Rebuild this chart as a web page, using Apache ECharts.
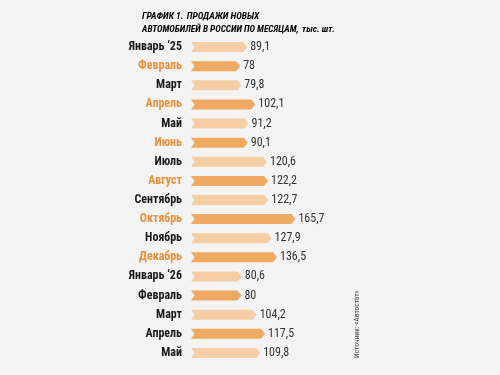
<!DOCTYPE html>
<html>
<head>
<meta charset="utf-8">
<script src="https://cdn.jsdelivr.net/npm/echarts@6/dist/echarts.min.js"></script>
<style>
  html, body { margin: 0; padding: 0; background: #f3f3f3; }
  #chart { width: 500px; height: 375px; }
</style>
</head>
<body>
<div id="chart"></div>
<script>
  // data
  var months = ['Январь ‘25', 'Февраль', 'Март', 'Апрель', 'Май', 'Июнь', 'Июль', 'Август',
    'Сентябрь', 'Октябрь', 'Ноябрь', 'Декабрь', 'Январь ‘26', 'Февраль', 'Март', 'Апрель', 'Май'];
  var sales = [89.1, 78, 79.8, 102.1, 91.2, 90.1, 120.6, 122.2, 122.7, 165.7, 127.9, 136.5,
    80.6, 80, 104.2, 117.5, 109.8];
  // which bars are dark / which labels are orange
  var darkBar = [0, 1, 0, 1, 0, 1, 0, 1, 0, 1, 0, 1, 0, 1, 0, 1, 0];
  var orangeLabel = [0, 1, 0, 1, 0, 1, 0, 1, 0, 1, 0, 1, 0, 0, 0, 0, 0];

  var font = '"Roboto Condensed", "Open Sans", sans-serif';
  var chart = echarts.init(document.getElementById('chart'));

  var titleStyle = function (color, size) {
    return { color: color, fontSize: size, fontWeight: 'bold', fontStyle: 'italic', fontFamily: font };
  };

  chart.setOption({
    backgroundColor: '#f3f3f3',
    animation: false,
    grid: { left: 191, right: 183, top: 37.5, bottom: 12.5 },
    xAxis: {
      type: 'value', min: 0, max: 200,
      show: false
    },
    yAxis: {
      type: 'category',
      data: months,
      inverse: true,
      axisLine: { show: false },
      axisTick: { show: false },
      splitLine: { show: false },
      axisLabel: {
        margin: 9,
        fontSize: 12,
        fontWeight: 'bold',
        fontFamily: font,
        color: function (value, index) {
          return orangeLabel[index] ? '#e8913a' : '#1a1a1a';
        }
      }
    },
    series: [{
      type: 'custom',
      data: sales.map(function (v, i) { return [v, i]; }),
      encode: { x: 0, y: 1 },
      renderItem: function (params, api) {
        var i = api.value(1);
        var end = api.coord([api.value(0), i]);
        var start = api.coord([0, i]);
        var h = 10, d = 4;
        var x0 = start[0], x1 = end[0], y = end[1];
        return {
          type: 'group',
          children: [{
            type: 'polygon',
            shape: {
              points: [
                [x0, y - h / 2], [x1 - d, y - h / 2], [x1, y], [x1 - d, y + h / 2],
                [x0, y + h / 2], [x0 + 3.5, y]
              ]
            },
            style: { fill: darkBar[i] ? '#eeaa62' : '#f6cea6' }
          }, {
            type: 'text',
            x: x1 + 3,
            y: y,
            style: {
              text: String(api.value(0)).replace('.', ','),
              fill: '#333',
              fontSize: 12,
              fontFamily: font,
              verticalAlign: 'middle',
              align: 'left'
            }
          }]
        };
      }
    }],
    graphic: [{
      type: 'text',
      left: 142,
      top: 11,
      style: {
        text: '{o|ГРАФИК 1.} {b|ПРОДАЖИ НОВЫХ}',
        rich: { o: titleStyle('#e8913a', 9.5), b: titleStyle('#1a1a1a', 9.5) }
      }
    }, {
      type: 'text',
      left: 142,
      top: 24,
      style: {
        text: '{b|АВТОМОБИЛЕЙ В РОССИИ ПО МЕСЯЦАМ,} {s|тыс. шт.}',
        rich: { b: titleStyle('#1a1a1a', 9.3), s: titleStyle('#1a1a1a', 9.3) }
      }
    }, {
      type: 'text',
      x: 353,
      y: 358,
      rotation: Math.PI / 2,
      style: {
        text: 'Источник: «Автостат»',
        fill: '#444',
        fontSize: 7.5,
        fontFamily: font,
        verticalAlign: 'top'
      }
    }]
  });
</script>
</body>
</html>
